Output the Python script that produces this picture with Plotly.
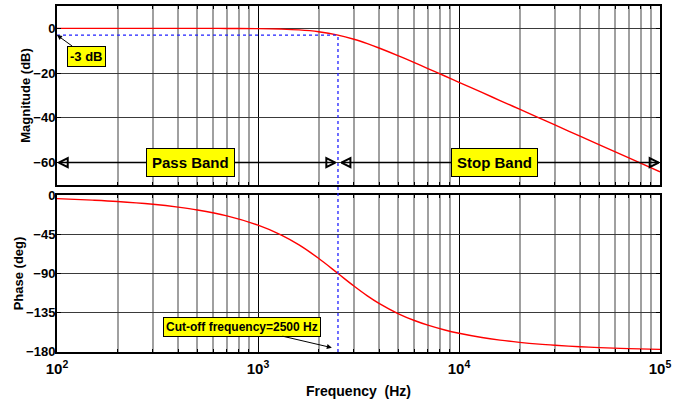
import numpy as np
import plotly.graph_objects as go

# Frequency response samples of the low-pass filter
freq_hz = [100, 150, 200, 300, 400, 500, 700, 1000, 1300, 1600, 2000, 2500,
           3000, 3500, 4000, 5000, 6000, 7000, 8500, 10000, 13000, 16000,
           20000, 25000, 30000, 40000, 50000, 70000, 100000]
magnitude_db = [0.0, 0.0, 0.0, 0.0, 0.0, -0.01, -0.03, -0.11, -0.31, -0.67, -1.49, -3.01,
                -4.88, -6.85, -8.78, -12.30, -15.34, -17.96, -21.29, -24.10, -28.64, -32.25,
                -36.12, -40.00, -43.17, -48.17, -52.04, -57.89, -64.08]
phase_deg = [-3.2, -4.9, -6.5, -9.8, -13.1, -16.4, -23.3, -34.0, -45.2, -56.9, -72.4, -90.0,
             -104.5, -115.9, -124.6, -136.7, -144.5, -149.9, -155.5, -159.3, -164.2, -167.2,
             -169.8, -171.9, -173.2, -174.9, -175.9, -177.1, -178.0]

cutoff_hz = 2500
cutoff_db = -3
band_level_db = -60
f_min, f_max = 100, 100000

decade_vals = [100, 1000, 10000, 100000]
decade_text = ["10<sup>2</sup>", "10<sup>3</sup>", "10<sup>4</sup>", "10<sup>5</sup>"]
minor_vals = [m * d for d in [100, 1000, 10000] for m in range(2, 10)]
mag_ticks = [0, -20, -40, -60]
phase_ticks = [0, -45, -90, -135, -180]

FONT = "Liberation Sans"
tick_font = dict(family=FONT, size=13, color="black", weight="bold")
title_font = dict(family=FONT, size=13, color="black", weight="bold")

mag_range = [-70, 10]
phase_range = [-181, 1]
top_domain = [0.4827, 1]
bottom_domain = [0, 0.4538]
log_range = [np.log10(f_min), np.log10(f_max)]

fig = go.Figure()

fig.add_trace(go.Scatter(x=freq_hz, y=magnitude_db, mode="lines",
                         line=dict(color="#ff0000", width=1.4, shape="spline"),
                         xaxis="x", yaxis="y", showlegend=False))
fig.add_trace(go.Scatter(x=freq_hz, y=phase_deg, mode="lines",
                         line=dict(color="#ff0000", width=1.4, shape="spline"),
                         xaxis="x2", yaxis="y2", showlegend=False))

# -3 dB reference line
blue_dot = dict(color="#2020ff", width=1.3, dash="dot")
fig.add_trace(go.Scatter(x=[f_min, cutoff_hz], y=[cutoff_db, cutoff_db], mode="lines",
                         line=blue_dot, xaxis="x", yaxis="y", showlegend=False))

# cut-off frequency marker running through both panels (paper coordinates)
x_paper = (np.log10(cutoff_hz) - log_range[0]) / (log_range[1] - log_range[0])
y_top_paper = top_domain[0] + (cutoff_db - mag_range[0]) / (mag_range[1] - mag_range[0]) * (top_domain[1] - top_domain[0])
fig.add_shape(type="line", xref="paper", yref="paper", x0=x_paper, x1=x_paper,
              y0=0, y1=y_top_paper, line=blue_dot)

# pass band / stop band double arrows
def band_arrow(x_left, x_right):
    fig.add_trace(go.Scatter(x=[x_left, x_right], y=[band_level_db, band_level_db], mode="lines+markers",
                             line=dict(color="black", width=1.5),
                             marker=dict(symbol=["arrow-left-open", "arrow-right-open"], size=9,
                                         color="black", line=dict(color="black", width=2)),
                             xaxis="x", yaxis="y", showlegend=False, cliponaxis=False))

band_arrow(f_min * 1.02, cutoff_hz * 0.97)
band_arrow(cutoff_hz * 1.04, f_max * 0.985)

box = dict(bgcolor="#ffff00", bordercolor="black", borderwidth=1, borderpad=5,
           font=dict(family=FONT, size=15, color="black", weight="bold"))
fig.add_annotation(x=np.log10(464), y=band_level_db, xref="x", yref="y", text="Pass Band", showarrow=False, **box)
fig.add_annotation(x=np.log10(15000), y=band_level_db, xref="x", yref="y", text="Stop Band", showarrow=False, **box)

fig.add_annotation(x=np.log10(f_min), y=cutoff_db, xref="x", yref="y", text="-3 dB", showarrow=True,
                   ax=29, ay=21, arrowhead=2, arrowsize=1, arrowwidth=1, arrowcolor="black",
                   bgcolor="#ffff00", bordercolor="black", borderwidth=1, borderpad=2,
                   font=dict(family=FONT, size=13, color="black", weight="bold"))
fig.add_annotation(x=np.log10(2330), y=-176, xref="x2", yref="y2", text="Cut-off frequency=2500 Hz", showarrow=True,
                   ax=-90, ay=-21, arrowhead=2, arrowsize=1, arrowwidth=1, arrowcolor="black",
                   bgcolor="#ffff00", bordercolor="black", borderwidth=1, borderpad=2,
                   font=dict(family=FONT, size=12, color="black", weight="bold"))

x_common = dict(type="log", range=log_range, showline=True, linewidth=2, linecolor="black", mirror="allticks",
                ticks="inside", ticklen=4, tickcolor="black", tickvals=decade_vals, ticktext=decade_text,
                showgrid=True, gridcolor="black", gridwidth=1, zeroline=False, automargin=False,
                minor=dict(tickvals=minor_vals, showgrid=True, gridcolor="#a0a0a0", gridwidth=1.5,
                           ticks="inside", ticklen=3, tickcolor="black"))
y_common = dict(showline=True, linewidth=2, linecolor="black", mirror="allticks", ticks="inside", ticklen=4,
                tickcolor="black", showgrid=True, gridcolor="#3a3a3a", gridwidth=1, zeroline=False,
                tickfont=tick_font, ticklabelstandoff=-3, automargin=False)

fig.update_layout(
    width=683, height=400, margin=dict(l=57, r=23, t=6, b=48, autoexpand=False),
    paper_bgcolor="white", plot_bgcolor="white",
    xaxis=dict(x_common, domain=[0, 1], anchor="y", showticklabels=False, matches="x2"),
    xaxis2=dict(x_common, domain=[0, 1], anchor="y2", ticklabelstandoff=2,
                tickfont=dict(family=FONT, size=15, color="black", weight="bold"),
                title=dict(text="Frequency  (Hz)", font=dict(family=FONT, size=14, color="black", weight="bold"),
                           standoff=10)),
    yaxis=dict(y_common, domain=top_domain, range=mag_range, tickvals=mag_ticks, anchor="x",
               title=dict(text="Magnitude (dB)", font=title_font, standoff=0)),
    yaxis2=dict(y_common, domain=bottom_domain, range=phase_range, tickvals=phase_ticks, anchor="x2",
                title=dict(text="Phase (deg)", font=title_font, standoff=0)),
)

fig.write_html("out.html")
